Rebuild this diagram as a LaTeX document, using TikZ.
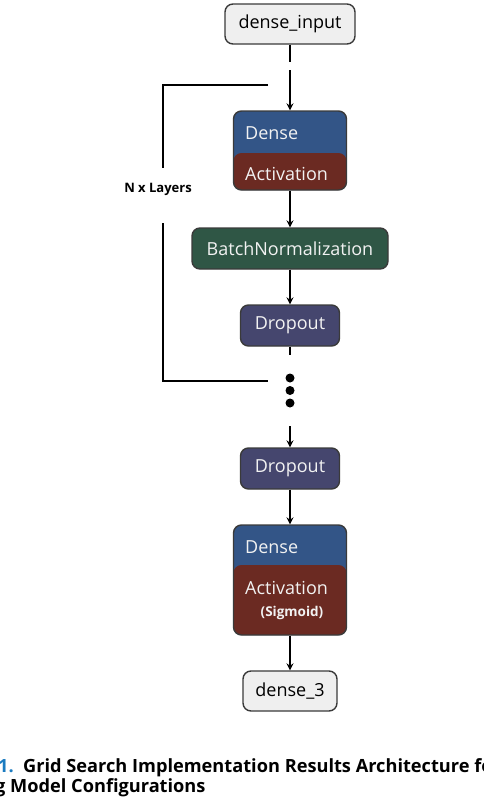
\documentclass[tikz,border=0pt]{standalone}
\usepackage{fontspec}
\setmainfont{Open Sans}
\usetikzlibrary{arrows.meta}
\definecolor{densecol}{HTML}{335587}
\definecolor{actcol}{HTML}{6B2A22}
\definecolor{bncol}{HTML}{2F5645}
\definecolor{dropcol}{HTML}{45466E}
\definecolor{lightcol}{HTML}{EFEFEF}
\definecolor{bordercol}{HTML}{3A3A3A}
\definecolor{txtlight}{HTML}{F2F2F2}
\definecolor{capblue}{HTML}{1B7BC0}
\begin{document}
\begin{tikzpicture}[x=1pt,y=-1pt,
  box/.style={draw=bordercol, line width=1.4pt, rounded corners=8pt, inner sep=0pt,
    font=\fontsize{18}{20}\selectfont},
  darkbox/.style={box, text=txtlight},
  lbl/.style={inner sep=0pt, text=txtlight, font=\fontsize{18}{20}\selectfont},
  conn/.style={line width=1.5pt, draw=black},
  arr/.style={conn, -{Stealth[length=7pt,width=7pt,inset=2.5pt]}},
  brk/.style={line width=2.5pt, draw=black},
  dotnode/.style={circle, fill=black, inner sep=0pt, minimum size=9pt},
  capt/.style={inner sep=0pt, font=\bfseries\fontsize{18.2}{20}\selectfont}]
\useasboundingbox (0,0) rectangle (484,798);
\clip (0,0) rectangle (484,798);

% boxes
\node[box, fill=lightcol, minimum width=130pt, minimum height=40pt] (in) at (290,24) {dense\_input};
\node[box, fill=densecol, minimum width=113pt, minimum height=79pt,
  path picture={\fill[actcol] ([yshift=-2.5pt]path picture bounding box.west) rectangle (path picture bounding box.south east);}] (d1) at (290,150.5) {};
\node[lbl, anchor=base west] (d1a) at (245,139) {Dense};
\node[lbl, anchor=base west] (d1b) at (245,180) {Activation};
\node[darkbox, fill=bncol, minimum width=196pt, minimum height=41pt] (bn) at (290,248.5) {BatchNormalization};
\node[darkbox, fill=dropcol, minimum width=99pt, minimum height=41pt] (do1) at (290,325.5) {Dropout};
\node[darkbox, fill=dropcol, minimum width=99pt, minimum height=41pt] (do2) at (290,468.5) {Dropout};
\node[box, fill=densecol, minimum width=113pt, minimum height=110pt,
  path picture={\fill[actcol] ([yshift=15pt]path picture bounding box.west) rectangle (path picture bounding box.south east);}] (d2) at (290,580) {};
\node[lbl, anchor=base west] (d2a) at (245,553) {Dense};
\node[lbl, anchor=base west] (d2b) at (245,594) {Activation};
\node[lbl, anchor=base, font=\bfseries\fontsize{13.5}{15}\selectfont] (d2c) at (292,616) {(Sigmoid)};
\node[box, fill=lightcol, minimum width=94pt, minimum height=40pt] (out) at (290,691) {dense\_3};

% dots
\node[dotnode] (dot1) at (290,378) {};
\node[dotnode] (dot2) at (290,390.5) {};
\node[dotnode] (dot3) at (290,403) {};

% connectors
\coordinate (c1) at (290,62);
\coordinate (c2) at (290,70);
\draw[conn] (in.south) -- (c1);
\draw[arr] (c2) -- (d1.north);
\draw[arr] (d1.south) -- (bn.north);
\draw[arr] (bn.south) -- (do1.north);
\coordinate (c3) at (290,355);
\draw[conn] (do1.south) -- (c3);
\coordinate (c4) at (290,426);
\draw[arr] (c4) -- (do2.north);
\draw[arr] (do2.south) -- (d2.north);
\draw[arr] (d2.south) -- (out.north);

% bracket
\coordinate (b1) at (268,85);
\coordinate (b2) at (163,168);
\coordinate (b3) at (163,223);
\coordinate (b4) at (268,381);
\draw[brk] (b1) -| (b2);
\draw[brk] (b3) |- (b4);
\node[inner sep=0pt, anchor=base, font=\bfseries\fontsize{13}{14}\selectfont] (nl) at (158,192) {N x Layers};

% caption
\node[capt, anchor=base east, text=capblue] (num) at (14,772) {1.};
\node[capt, anchor=base west] (cap1) at (23,772) {Grid Search Implementation Results Architecture for};
\node[capt, anchor=base west] (cap2) at (-5,792) {g Model Configurations};
\end{tikzpicture}
\end{document}
